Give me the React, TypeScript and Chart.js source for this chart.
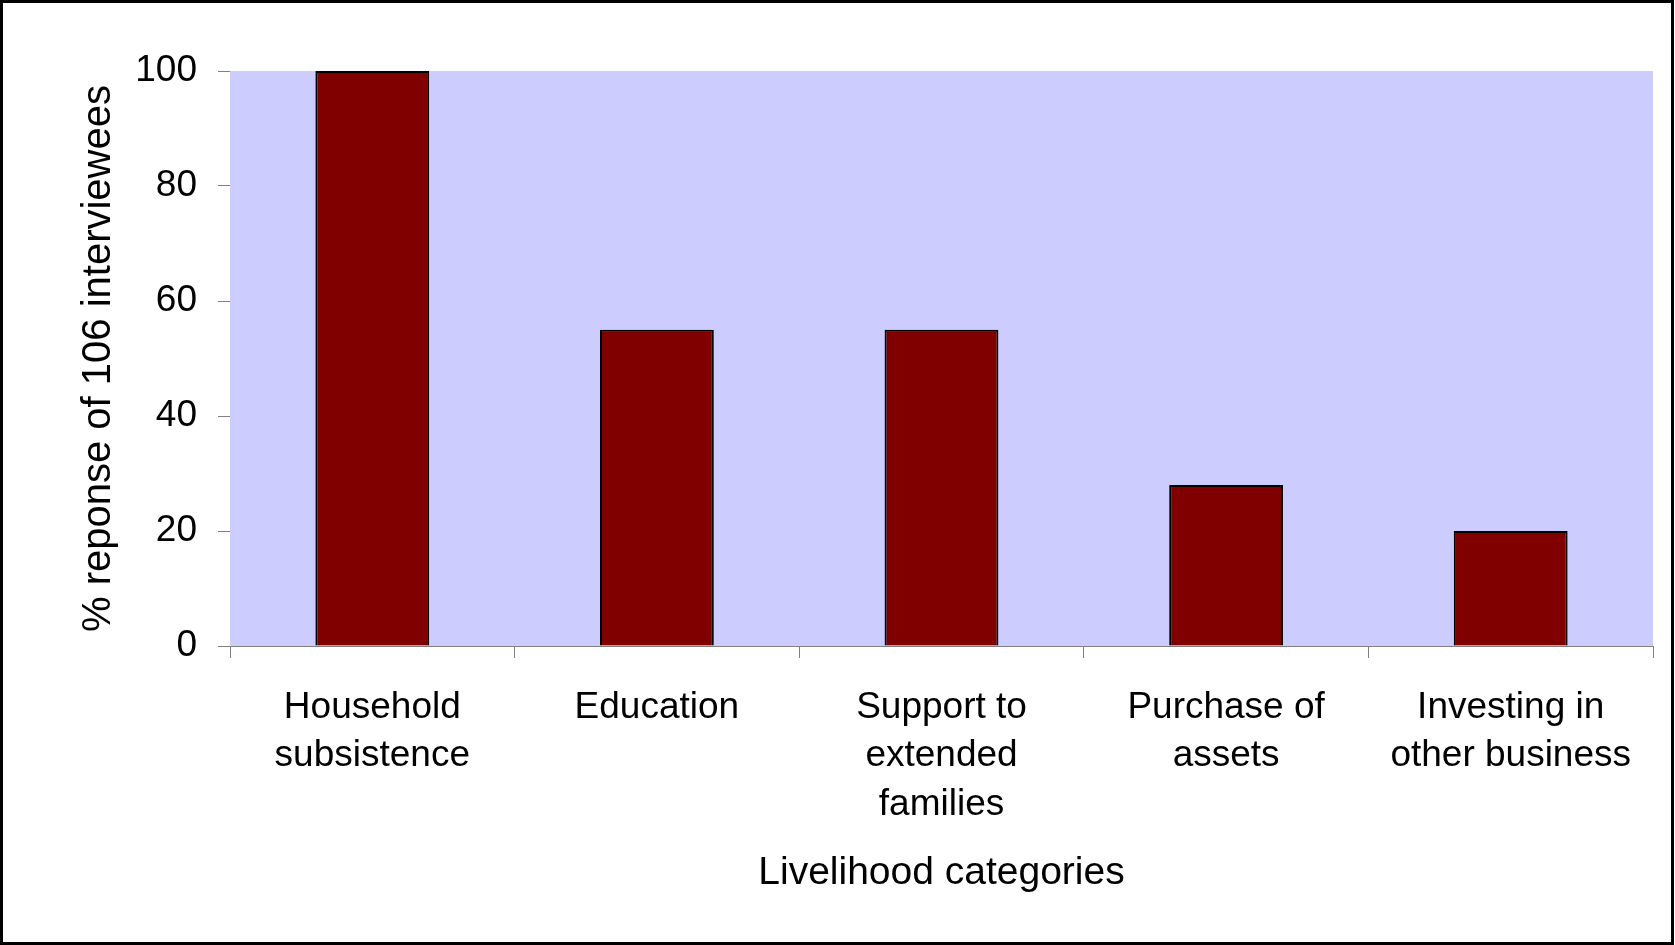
import React, { useEffect, useRef } from "react";
import { Chart, registerables } from "chart.js";

Chart.register(...registerables);

const categories: string[][] = [
  ["Household", "subsistence"],
  ["Education"],
  ["Support to", "extended", "families"],
  ["Purchase of", "assets"],
  ["Investing in", "other business"],
];
const responsePercent: number[] = [100, 55, 55, 28, 20];
const yTickMin = 0;
const yTickMax = 100;
const yTickStep = 20;
const xTitle = "Livelihood categories";
const yTitle = "% reponse of 106 interviewees";

const FONT = "'Liberation Sans', Arial, sans-serif";

const plotBackground = {
  id: "plotBackground",
  beforeDraw(chart: any) {
    const { ctx, chartArea } = chart;
    ctx.save();
    ctx.fillStyle = "#CCCCFF";
    ctx.fillRect(chartArea.left, chartArea.top, chartArea.right - chartArea.left, chartArea.bottom - chartArea.top);
    ctx.restore();
  },
  afterDraw(chart: any) {
    const { ctx, width, height } = chart;
    ctx.save();
    ctx.strokeStyle = "#000";
    ctx.lineWidth = 3;
    ctx.strokeRect(1.5, 1.5, width - 4, height - 3);
    ctx.restore();
  },
};

export default function App() {
  const ref = useRef<HTMLCanvasElement>(null);
  useEffect(() => {
    if (!ref.current) return;
    const chart = new Chart(ref.current, {
      type: "bar",
      data: {
        labels: categories,
        datasets: [
          {
            data: responsePercent,
            backgroundColor: "#800000",
            borderColor: "#000000",
            borderWidth: 2,
            categoryPercentage: 1,
            barPercentage: 0.4,
          },
        ],
      },
      options: {
        responsive: false,
        animation: false,
        events: [],
        layout: { padding: { top: 71, right: 22, left: 0, bottom: 0 } },
        plugins: { legend: { display: false }, tooltip: { enabled: false } },
        scales: {
          x: {
            afterFit: (s: any) => {
              s.height = 299;
            },
            grid: {
              offset: true,
              drawOnChartArea: false,
              drawTicks: true,
              tickLength: 12,
              color: "#808080",
            },
            border: { display: true, color: "#808080", width: 1 },
            ticks: {
              color: "#000",
              padding: 25,
              maxRotation: 0,
              autoSkip: false,
              font: { family: FONT, size: 37, lineHeight: 1.32 },
            },
            title: {
              display: true,
              text: xTitle,
              color: "#000",
              font: { family: FONT, size: 39, lineHeight: 1.2 },
              padding: { top: 0, bottom: 48 },
            },
          },
          y: {
            min: yTickMin,
            max: yTickMax,
            afterFit: (s: any) => {
              s.width = 230;
            },
            grid: {
              drawOnChartArea: false,
              drawTicks: true,
              tickLength: 12,
              color: "#808080",
            },
            border: { display: false },
            ticks: {
              stepSize: yTickStep,
              color: "#000",
              padding: 21,
              font: { family: FONT, size: 37 },
            },
            title: {
              display: true,
              text: yTitle,
              color: "#000",
              font: { family: FONT, size: 40, lineHeight: 1.2 },
              padding: { top: 75, bottom: 0 },
            },
          },
        },
      },
      plugins: [plotBackground],
    });
    return () => chart.destroy();
  }, []);
  return (
    <div style={{ position: "absolute", left: 0, top: 0, width: 1675, height: 945, background: "#fff" }}>
      <canvas ref={ref} width={1675} height={945} style={{ display: "block" }} />
    </div>
  );
}
